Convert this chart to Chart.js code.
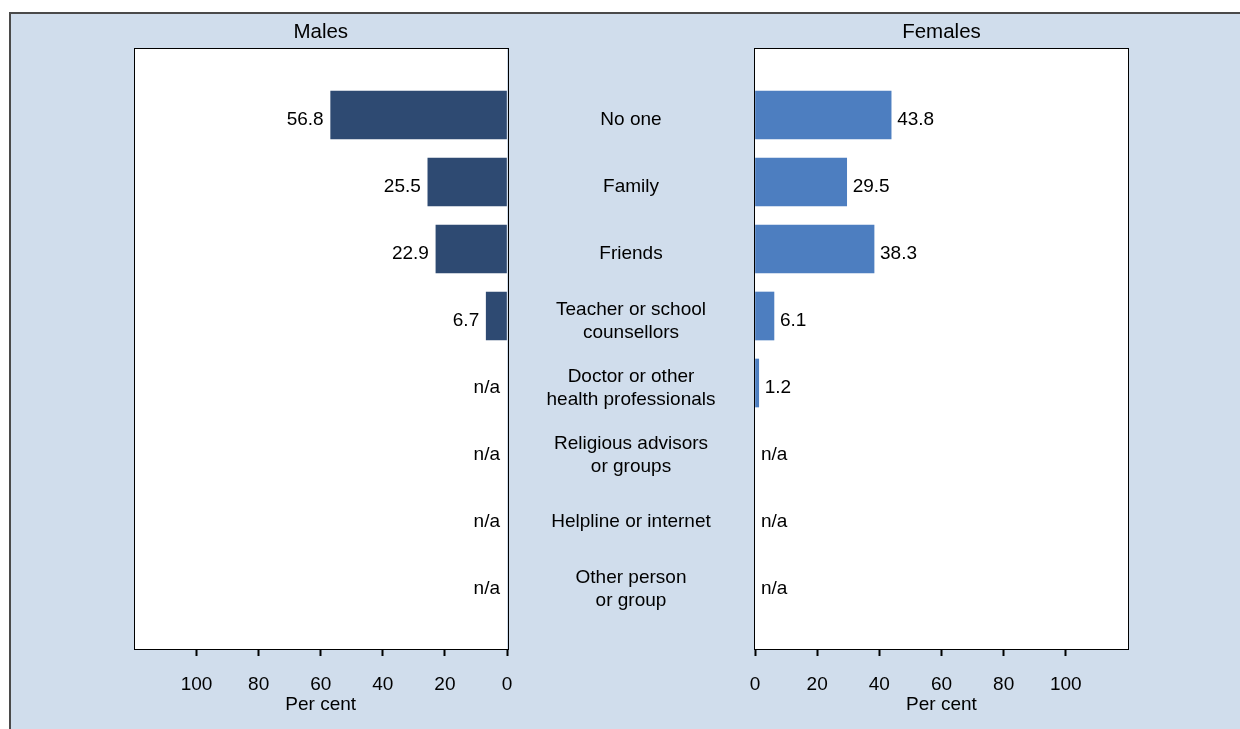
<!DOCTYPE html>
<html>
<head>
<meta charset="utf-8">
<script src="https://cdn.jsdelivr.net/npm/chart.js@4.4.1/dist/chart.umd.min.js"></script>
<style>
  html, body { margin: 0; padding: 0; background: #fff; width: 1240px; height: 729px; overflow: hidden; }
  #frame { position: absolute; left: 9px; top: 12px; width: 1260px; height: 740px;
           background: #d0ddec; border-left: 2px solid #4a4a4a; border-top: 2px solid #4a4a4a; }
  canvas { position: absolute; top: 0; }
  #males { left: 0; }
  #females { left: 507px; }
</style>
</head>
<body>
<div id="frame"></div>
<canvas id="males" width="620" height="729"></canvas>
<canvas id="females" width="733" height="729"></canvas>
<script>
const categories = [
  ["No one"],
  ["Family"],
  ["Friends"],
  ["Teacher or school", "counsellors"],
  ["Doctor or other", "health professionals"],
  ["Religious advisors", "or groups"],
  ["Helpline or internet"],
  ["Other person", "or group"]
];
const males = [56.8, 25.5, 22.9, 6.7, null, null, null, null];
const females = [43.8, 29.5, 38.3, 6.1, 1.2, null, null, null];
const xTicks = [0, 20, 40, 60, 80, 100];

const FONT = "'Liberation Sans', Arial, sans-serif";
Chart.defaults.font.family = FONT;
Chart.defaults.color = "#000";
Chart.defaults.font.size = 19;

// labels sit a little below the bar centres in the original
const LABEL_SHIFT = 5;

// white plot area + black frame round it
const panel = {
  id: "panel",
  beforeDraw(chart) {
    const { ctx, chartArea: a } = chart;
    ctx.save();
    ctx.fillStyle = "#fff";
    ctx.fillRect(a.left, a.top, a.right - a.left, a.bottom - a.top);
    ctx.restore();
  },
  afterDraw(chart) {
    const { ctx, chartArea: a } = chart;
    ctx.save();
    ctx.strokeStyle = "#000";
    ctx.lineWidth = 1;
    ctx.strokeRect(Math.round(a.left) - 0.5, Math.round(a.top) + 0.5,
                   Math.round(a.right - a.left) + 1, Math.round(a.bottom - a.top));
    ctx.restore();
  }
};

// numbers (or n/a) at the end of each bar
const valueLabels = {
  id: "valueLabels",
  afterDatasetsDraw(chart, args, opts) {
    const { ctx, scales: { x, y } } = chart;
    const data = chart.data.datasets[0].data;
    ctx.save();
    ctx.font = "19px " + FONT;
    ctx.fillStyle = "#000";
    ctx.textBaseline = "middle";
    data.forEach((d, i) => {
      const px = x.getPixelForValue(d.x == null ? 0 : d.x);
      const py = y.getPixelForValue(d.y) + LABEL_SHIFT;
      const txt = d.x == null ? "n/a" : d.x.toFixed(1);
      if (opts.side === "left") {
        ctx.textAlign = "right";
        ctx.fillText(txt, px - 7, py);
      } else {
        ctx.textAlign = "left";
        ctx.fillText(txt, px + 6, py);
      }
    });
    ctx.restore();
  }
};

function xScale(reverse) {
  return {
    type: "linear",
    min: 0,
    max: 120,
    reverse: reverse,
    afterBuildTicks: (s) => { s.ticks = xTicks.map(v => ({ value: v })); },
    afterFit: (s) => { s.height = 80; },
    grid: { drawOnChartArea: false, tickLength: 7, tickWidth: 2, tickColor: "#000" },
    border: { display: false },
    ticks: { padding: 17, font: { size: 19 }, color: "#000" },
    title: { display: true, text: "Per cent", font: { size: 19 }, padding: { top: 0, bottom: 13 } }
  };
}

function title(text) {
  return { display: true, text: text, fullSize: false, color: "#000",
           font: { size: 20.5, weight: "normal" }, padding: { top: 20, bottom: 3.4 } };
}

const yMin = -1, yMax = 7.97;

// measure widest category line so the labels centre in the gap
const mctx = document.createElement("canvas").getContext("2d");
mctx.font = "19px " + FONT;
let widest = 0;
categories.forEach(c => c.forEach(l => { widest = Math.max(widest, mctx.measureText(l).width); }));

new Chart(document.getElementById("males"), {
  type: "bar",
  data: {
    datasets: [{
      data: males.map((v, i) => ({ x: v, y: i })),
      backgroundColor: "#2e4a72",
      barThickness: 48
    }]
  },
  options: {
    indexAxis: "y",
    responsive: false,
    animation: false,
    layout: { padding: { left: 134.5, right: 113, top: 0, bottom: 0 } },
    scales: {
      x: xScale(true),
      y: { type: "linear", min: yMin, max: yMax, reverse: true, offset: false, display: false }
    },
    plugins: {
      legend: { display: false },
      tooltip: { enabled: false },
      title: title("Males"),
      valueLabels: { side: "left" }
    }
  },
  plugins: [panel, valueLabels]
});

new Chart(document.getElementById("females"), {
  type: "bar",
  data: {
    datasets: [{
      data: females.map((v, i) => ({ x: v, y: i })),
      backgroundColor: "#4d7ec0",
      barThickness: 48
    }]
  },
  options: {
    indexAxis: "y",
    responsive: false,
    animation: false,
    layout: { padding: { left: 0, right: 112, top: 0, bottom: 0 } },
    scales: {
      x: xScale(false),
      y: {
        type: "linear", min: yMin, max: yMax, reverse: true, offset: false, position: "left",
        afterBuildTicks: (s) => { s.ticks = categories.map((c, i) => ({ value: i })); },
        afterFit: (s) => { s.width = 248; s.paddingTop = 0; s.paddingBottom = 0; },
        grid: { display: false, drawTicks: false },
        border: { display: false },
        ticks: {
          autoSkip: false,
          crossAlign: "center",
          padding: 124 - widest / 2,
          labelOffset: LABEL_SHIFT,
          font: { size: 19, lineHeight: 1.2 },
          color: "#000",
          callback: (v, i) => categories[i]
        }
      }
    },
    plugins: {
      legend: { display: false },
      tooltip: { enabled: false },
      title: title("Females"),
      valueLabels: { side: "right" }
    }
  },
  plugins: [panel, valueLabels]
});
</script>
</body>
</html>
